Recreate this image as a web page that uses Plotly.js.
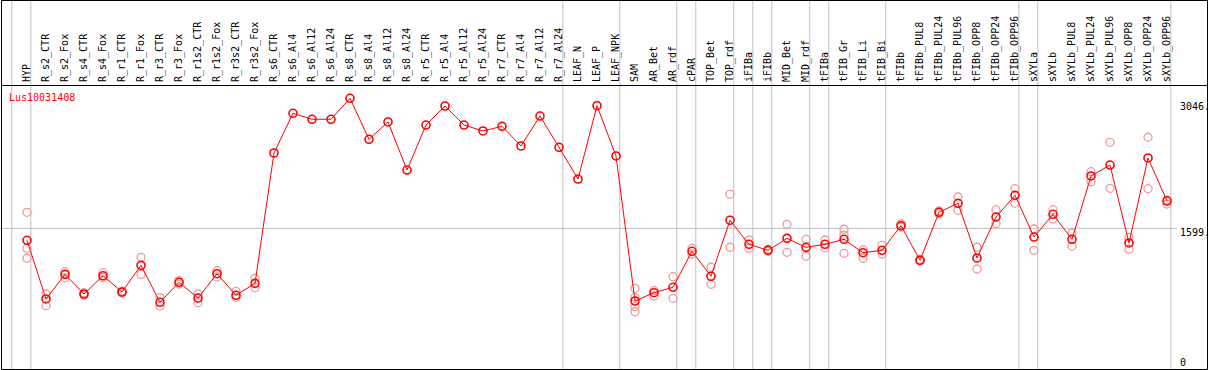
<!DOCTYPE html>
<html><head><meta charset="utf-8">
<script src="https://cdn.plot.ly/plotly-3.0.1.min.js"></script>
<style>html,body{margin:0;padding:0;background:#fff}</style>
</head><body><div id="chart" style="width:1209px;height:370px"></div>
<script>
const geneName = 'Lus10031408';
const categories = ['HYP','R_s2_CTR','R_s2_Fox','R_s4_CTR','R_s4_Fox','R_r1_CTR','R_r1_Fox','R_r3_CTR','R_r3_Fox',
  'R_r1s2_CTR','R_r1s2_Fox','R_r3s2_CTR','R_r3s2_Fox','R_s6_CTR','R_s6_Al4','R_s6_Al12','R_s6_Al24',
  'R_s8_CTR','R_s8_Al4','R_s8_Al12','R_s8_Al24','R_r5_CTR','R_r5_Al4','R_r5_Al12','R_r5_Al24',
  'R_r7_CTR','R_r7_Al4','R_r7_Al12','R_r7_Al24','LEAF_N','LEAF_P','LEAF_NPK','SAM','AR_Bet','AR_rdf',
  'cPAR','TOP_Bet','TOP_rdf','iFIBa','iFIBb','MID_Bet','MID_rdf','tFIBa','tFIB_Gr','tFIB_Li','tFIB_Bi',
  'tFIBb','tFIBb_PUL8','tFIBb_PUL24','tFIBb_PUL96','tFIBb_OPP8','tFIBb_OPP24','tFIBb_OPP96',
  'sXYLa','sXYLb','sXYLb_PUL8','sXYLb_PUL24','sXYLb_PUL96','sXYLb_OPP8','sXYLb_OPP24','sXYLb_OPP96'];
const means = [1462,790,1072,847,1056,870,1175,752,981,801,1079,832,969,2461,2915,2847,2847,
  3087,2618,2816,2266,2781,2999,2781,2713,2766,2541,2884,2526,2163,3002,2427,767,862,924,
  1336,1050,1691,1416,1347,1484,1381,1416,1473,1320,1347,
  1629,1233,1782,1885,1259,1728,1977,1499,1759,1473,2198,2323,1431,2404,1911];
const rep1 = [1782,847,1102,862,1091,880,1267,805,1001,847,1114,878,1027,
  null,null,null,null,null,null,null,null,null,null,null,null,null,null,null,null,null,null,null,
  912,885,1045,1370,1153,1988,1465,1359,1645,1473,1465,1588,1351,1404,
  1648,1242,1797,1957,1382,1809,2052,1591,1812,1545,2247,2583,1496,2641,1923];
const rep2 = [1370,713,1034,832,1034,860,1072,710,961,747,1042,809,919,
  null,null,null,null,null,null,null,null,null,null,null,null,null,null,null,null,null,null,null,
  809,824,798,1305,958,1382,1370,1336,1324,1279,1377,1522,1256,1305,
  1614,1225,1763,1805,1133,1652,1885,1347,1706,1393,2132,2057,1359,2052,1877];
const rep3Cats = ['HYP','SAM','tFIB_Gr'];
const rep3 = [1256,702,1313];
const rep4Cats = ['SAM'];
const rep4 = [644];
const separatorsAfter = ['HYP','R_r7_Al24','LEAF_NPK','AR_rdf','cPAR','TOP_rdf','iFIBa','iFIBb',
  'MID_rdf','tFIBa','tFIB_Bi','tFIBb_OPP96','sXYLa','sXYLb_OPP96'];
const yTickVals = [0,1599,3046];
const yTickText = ['0','1599.','3046.'];

const FONT = 'DejaVu Sans Mono';
const RED = '#ff0000';
const PINK = '#f09a9a';
const W = 1209, H = 370;
const PL = 2, PR = 1173, PT = 85, PB = 369;
const px2x = p => (p - PL) / (PR - PL);
const px2y = p => (PB - p) / (PB - PT);

const repMarker = {symbol:'circle-open', size:8, color:PINK, line:{width:1.3, color:PINK}};
const traces = [
  {x:categories, y:rep1, type:'scatter', mode:'markers', marker:repMarker, hoverinfo:'skip'},
  {x:categories, y:rep2, type:'scatter', mode:'markers', marker:repMarker, hoverinfo:'skip'},
  {x:rep3Cats, y:rep3, type:'scatter', mode:'markers', marker:repMarker, hoverinfo:'skip'},
  {x:rep4Cats, y:rep4, type:'scatter', mode:'markers', marker:repMarker, hoverinfo:'skip'},
  {x:categories, y:means, type:'scatter', mode:'lines+markers',
   line:{color:RED, width:1},
   marker:{symbol:'circle-open', size:8, color:RED, line:{width:1.6, color:RED}}}
];

const shapes = [];
const sepIdx = [-1].concat(separatorsAfter.map(n => categories.indexOf(n)));
sepIdx.forEach(i => shapes.push({type:'line', xref:'x', yref:'paper', x0:i+0.2, x1:i+0.2,
  y0:px2y(369.5), y1:px2y(0), line:{color:'#c0c0c0', width:1}, layer:'below'}));
shapes.push({type:'line', xref:'paper', yref:'y', x0:px2x(0), x1:px2x(1177), y0:yTickVals[1], y1:yTickVals[1],
  line:{color:'#c0c0c0', width:1}, layer:'below'});
// frame
shapes.push({type:'rect', xref:'paper', yref:'paper', x0:px2x(1.5), x1:px2x(1207.5), y0:px2y(369.5), y1:px2y(0.5),
  line:{color:'#000', width:1}, fillcolor:'rgba(0,0,0,0)'});
shapes.push({type:'line', xref:'paper', yref:'paper', x0:px2x(1.5), x1:px2x(1207.5), y0:px2y(85.5), y1:px2y(85.5),
  line:{color:'#000', width:1}});

const annotations = yTickVals.map((v, k) => ({
  xref:'paper', yref:'y', x:1, y:v, xanchor:'left', yanchor:'middle', xshift:5,
  yshift: v === 0 ? 6 : -4.5, showarrow:false, text:yTickText[k],
  font:{family:FONT, size:10, color:'#000'}
}));

const yPerPx = 1599 / (368 - 228.3);
const layout = {
  width:W, height:H,
  margin:{l:PL, r:W-PR, t:PT, b:H-PB, pad:0},
  paper_bgcolor:'#fff', plot_bgcolor:'#fff',
  showlegend:false,
  title:{text:geneName, xref:'container', yref:'container', x:9/W, xanchor:'left', y:1-97/H, yanchor:'middle',
    font:{family:FONT, size:10, color:RED}},
  xaxis:{type:'category', categoryorder:'array', categoryarray:categories,
    range:[-25/19, -25/19 + (PR-PL)/19], side:'top', tickangle:-90, ticks:'', showgrid:false,
    zeroline:false, showline:false, automargin:false, fixedrange:true, ticklabelstandoff:2,
    tickfont:{family:FONT, size:10, color:'#000'}},
  yaxis:{range:[-(PB-368)*yPerPx, (368-PT)*yPerPx], showgrid:false, zeroline:false, showline:false,
    showticklabels:false, ticks:'', automargin:false, fixedrange:true},
  shapes:shapes, annotations:annotations
};
Plotly.newPlot('chart', traces, layout, {displayModeBar:false, staticPlot:true});
</script></body></html>
